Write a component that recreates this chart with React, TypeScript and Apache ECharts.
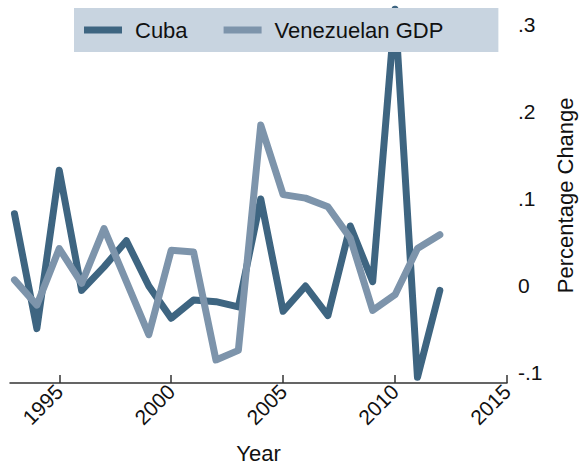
import React, { useEffect, useRef } from "react";
import * as echarts from "echarts";

// Annual percentage change, 1993–2012
const years = [
  1993, 1994, 1995, 1996, 1997, 1998, 1999, 2000, 2001, 2002,
  2003, 2004, 2005, 2006, 2007, 2008, 2009, 2010, 2011, 2012,
];
const cuba = [
  0.083, -0.049, 0.133, -0.005, 0.022, 0.052, 0.0, -0.037, -0.016, -0.018,
  -0.024, 0.1, -0.029, 0.0, -0.034, 0.069, 0.005, 0.318, -0.105, -0.005,
];
const venezuelanGdp = [
  0.007, -0.022, 0.043, 0.003, 0.066, 0.005, -0.056, 0.041, 0.039, -0.085,
  -0.074, 0.185, 0.105, 0.101, 0.091, 0.055, -0.028, -0.01, 0.043, 0.059,
];
const yearTicks = [1995, 2000, 2005, 2010, 2015];
const changeTicks = [-0.1, 0, 0.1, 0.2, 0.3];

const seriesNames = ["Cuba", "Venezuelan GDP"];
const colors = ["#3e6581", "#7d94ab"];

const FONT = "'Liberation Sans', Arial, Helvetica, sans-serif";

const fmtChange = (v: number) => {
  if (Math.abs(v) < 1e-9) return "0";
  const s = String(Math.round(Math.abs(v) * 10) / 10).replace(/^0/, "");
  return (v < 0 ? "-" : "") + s;
};

export default function App() {
  const ref = useRef<HTMLDivElement>(null);

  useEffect(() => {
    if (!ref.current) return;
    const chart = echarts.init(ref.current, null, { renderer: "svg" });
    const toPairs = (vals: number[]) => years.map((y, i) => [y, vals[i]]);
    chart.setOption({
      animation: false,
      backgroundColor: "#ffffff",
      textStyle: { fontFamily: FONT },
      grid: {
        left: 10,
        right: 72,
        top: 7.6,
        bottom: 83,
        containLabel: false,
        outerBoundsMode: "none",
      },
      legend: {
        data: seriesNames,
        left: 74,
        top: 8,
        orient: "horizontal",
        backgroundColor: "#c8d4e0",
        padding: [11, 55, 11, 10],
        itemGap: 36,
        itemWidth: 38,
        itemHeight: 7,
        icon: "rect",
        textStyle: {
          fontFamily: FONT,
          fontSize: 22,
          lineHeight: 22,
          color: "#111",
          padding: [0, 0, 0, 8],
        },
      },
      xAxis: {
        type: "value",
        min: 1992.8,
        max: 2015,
        name: "Year",
        nameLocation: "middle",
        nameGap: 59,
        nameTextStyle: { fontFamily: FONT, fontSize: 22, color: "#111" },
        splitLine: { show: false },
        axisLine: { show: true, onZero: false, lineStyle: { color: "#333", width: 1.5 } },
        axisTick: {
          show: true,
          inside: true,
          length: 8,
          customValues: yearTicks,
          lineStyle: { color: "#333", width: 1.5 },
        },
        axisLabel: {
          customValues: yearTicks,
          rotate: 45,
          margin: 5,
          fontFamily: FONT,
          fontSize: 21,
          color: "#111",
          formatter: (v: number) => String(v),
        },
      },
      yAxis: {
        type: "value",
        position: "right",
        min: -0.1115,
        max: 0.32,
        name: "Percentage Change",
        nameLocation: "middle",
        nameGap: 47,
        nameTextStyle: { fontFamily: FONT, fontSize: 22, color: "#111" },
        splitLine: { show: false },
        axisLine: { show: false, onZero: false },
        axisTick: { show: false },
        axisLabel: {
          customValues: changeTicks,
          margin: 11,
          fontFamily: FONT,
          fontSize: 21,
          color: "#111",
          formatter: fmtChange,
        },
      },
      series: [cuba, venezuelanGdp].map((vals, i) => ({
        name: seriesNames[i],
        type: "line",
        data: toPairs(vals),
        showSymbol: false,
        symbol: "none",
        color: colors[i],
        lineStyle: { color: colors[i], width: 7, cap: "round", join: "round" },
      })),
    });
    return () => chart.dispose();
  }, []);

  return (
    <div
      ref={ref}
      style={{ position: "absolute", left: 0, top: 0, width: 579, height: 466 }}
    />
  );
}
